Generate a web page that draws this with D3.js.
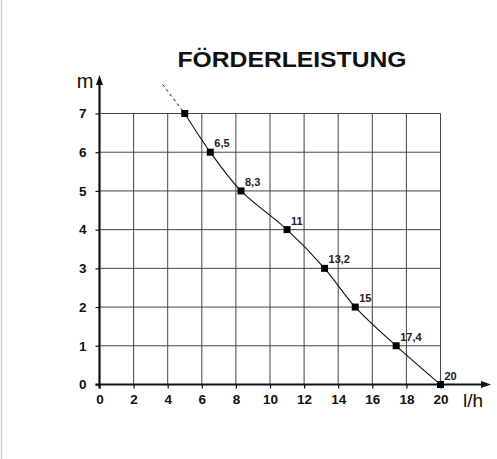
<!DOCTYPE html>
<html><head><meta charset="utf-8">
<script src="https://cdn.jsdelivr.net/npm/d3@7/dist/d3.min.js"></script>
<style>html,body{margin:0;padding:0;background:#fff;}svg{display:block;}</style>
</head><body>
<script>
const title = "FÖRDERLEISTUNG";
const flow = [5, 6.5, 8.3, 11, 13.2, 15, 17.4, 20];      // l/h
const head = [7, 6, 5, 4, 3, 2, 1, 0];                    // m
const pointLabels = ["", "6,5", "8,3", "11", "13,2", "15", "17,4", "20"];
const extFlow = [3.7, 5];
const extHead = [7.75, 7];
const xTicks = [0, 2, 4, 6, 8, 10, 12, 14, 16, 18, 20];
const yTicks = [0, 1, 2, 3, 4, 5, 6, 7];

const W = 497, H = 459;
const svg = d3.select("body").append("svg").attr("width", W).attr("height", H);
const font = "Liberation Sans, Arial, sans-serif";

// faint left border
svg.append("line").attr("x1", 1.5).attr("x2", 1.5).attr("y1", 0).attr("y2", H)
  .attr("stroke", "#d0d0d0").attr("stroke-width", 1.5);

const x = d3.scaleLinear().domain([0, 20]).range([99.5, 440.5]);
const y = d3.scaleLinear().domain([0, 7]).range([384.5, 113.5]);

// title
svg.append("text").attr("x", 292).attr("y", 67).attr("text-anchor", "middle")
  .attr("font-family", font).attr("font-weight", "bold").attr("font-size", 22)
  .attr("textLength", 229).attr("lengthAdjust", "spacingAndGlyphs")
  .attr("fill", "#111").text(title);

// grid
const g = svg.append("g");
g.selectAll(".vg").data(xTicks.slice(1)).join("line")
  .attr("x1", d => x(d)).attr("x2", d => x(d)).attr("y1", y(0)).attr("y2", y(7))
  .attr("stroke", "#444").attr("stroke-width", 1);
g.selectAll(".hg").data(yTicks.slice(1)).join("line")
  .attr("x1", x(0)).attr("x2", x(20)).attr("y1", d => y(d)).attr("y2", d => y(d))
  .attr("stroke", "#444").attr("stroke-width", 1);

// axes
const xAxis = d3.axisBottom(x).tickValues(xTicks).tickSize(4).tickPadding(6).tickFormat(d3.format("d"));
const yAxis = d3.axisLeft(y).tickValues(yTicks).tickSize(4).tickPadding(9).tickFormat(d3.format("d"));
const gx = svg.append("g").attr("transform", `translate(0,${y(0)})`).call(xAxis);
const gy = svg.append("g").attr("transform", `translate(${x(0)},0)`).call(yAxis);
[gx, gy].forEach(a => {
  a.select(".domain").remove();
  a.selectAll(".tick line").attr("stroke", "#111").attr("stroke-width", 1.2);
  a.selectAll(".tick text").attr("font-family", font).attr("font-weight", "bold")
    .attr("font-size", 13.5).attr("fill", "#111");
});

// axis lines with arrows
svg.append("line").attr("x1", x(0) - 4).attr("x2", 487).attr("y1", y(0)).attr("y2", y(0))
  .attr("stroke", "#111").attr("stroke-width", 2.2);
svg.append("path").attr("d", `M491,${y(0)} L481,${y(0) - 3.5} L481,${y(0) + 3.5} Z`).attr("fill", "#111");
svg.append("line").attr("x1", x(0)).attr("x2", x(0)).attr("y1", y(0) + 4).attr("y2", 80)
  .attr("stroke", "#111").attr("stroke-width", 2.2);
svg.append("path").attr("d", `M${x(0)},75 L${x(0) - 3.5},85 L${x(0) + 3.5},85 Z`).attr("fill", "#111");

// axis titles
svg.append("text").attr("x", 85).attr("y", 88).attr("text-anchor", "middle")
  .attr("font-family", font).attr("font-size", 20).attr("fill", "#111").text("m");
svg.append("text").attr("x", 463).attr("y", 407)
  .attr("font-family", font).attr("font-size", 19).attr("fill", "#111").text("l/h");

// dashed extension
const pts = flow.map((f, i) => [f, head[i]]);
svg.append("path")
  .attr("d", d3.line().x(d => x(d[0])).y(d => y(d[1]))(extFlow.map((f, i) => [f, extHead[i]])))
  .attr("fill", "none").attr("stroke", "#111").attr("stroke-width", 1).attr("stroke-dasharray", "3,3");

// curve
svg.append("path")
  .attr("d", d3.line().curve(d3.curveCatmullRom.alpha(0.5)).x(d => x(d[0])).y(d => y(d[1]))(pts))
  .attr("fill", "none").attr("stroke", "#111").attr("stroke-width", 1.1);

// markers
svg.selectAll(".mk").data(pts).join("rect")
  .attr("x", d => x(d[0]) - 3.5).attr("y", d => y(d[1]) - 3.5)
  .attr("width", 7).attr("height", 7).attr("fill", "#000");

// point labels
svg.selectAll(".pl").data(pts).join("text")
  .attr("x", d => x(d[0]) + 4).attr("y", d => y(d[1]) - 5)
  .attr("font-family", font).attr("font-weight", "bold").attr("font-size", 11).attr("fill", "#222")
  .text((d, i) => pointLabels[i]);
</script>
</body></html>
